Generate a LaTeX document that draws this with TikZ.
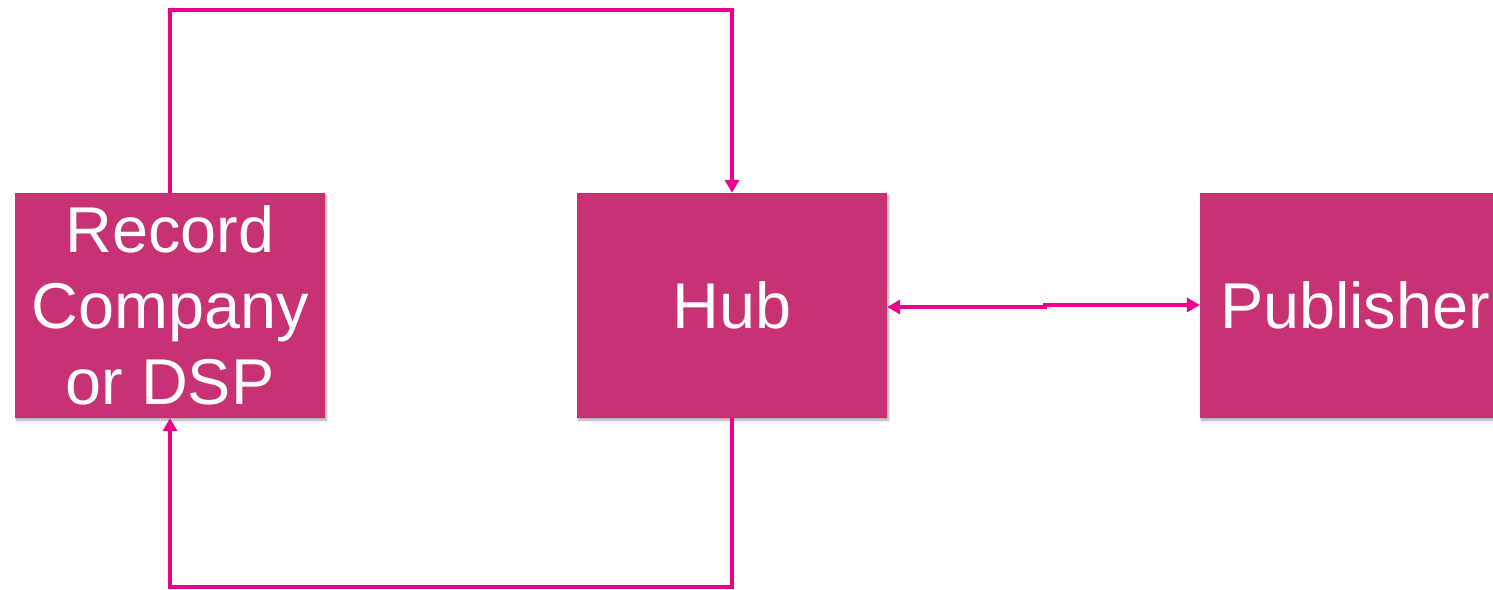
\documentclass[tikz,border=0pt]{standalone}
\usepackage{fontspec}
\setmainfont{Liberation Sans}
\usetikzlibrary{arrows.meta,shadows.blur}
\definecolor{boxfill}{HTML}{C73274}
\definecolor{linkcol}{HTML}{EC008C}
\tikzset{
  entity/.style={rectangle, fill=boxfill, minimum width=310bp, minimum height=225bp,
    inner sep=0pt, text=white, align=center,
    font=\fontsize{65}{76}\selectfont,
    blur shadow={shadow xshift=1.5bp, shadow yshift=-2bp, shadow blur steps=6, shadow opacity=35}},
  link/.style={draw=linkcol, line width=3.6bp,
    arrows={-Triangle[length=13bp,width=14bp]}},
  dlink/.style={draw=linkcol, line width=3.6bp,
    arrows={Triangle[length=13bp,width=14bp]-Triangle[length=13bp,width=14bp]}}
}
\begin{document}
\begin{tikzpicture}[x=1bp,y=-1bp]
\useasboundingbox (0,0) rectangle (1493,590);
\node[entity] (rec) at (170,305.5) {Record\\Company\\or DSP};
\node[entity] (hub) at (732,305.5) {Hub};
\node[entity] (pub) at (1355,305.5) {Publisher};
\coordinate (t1) at (170,10);
\coordinate (t2) at (732,10);
\coordinate (b1) at (732,587);
\coordinate (b2) at (170,587);
\coordinate (m1) at (1045,307);
\coordinate (m2) at (1045,305);
\draw[link] (rec.north) -- (t1) -- (t2) -- (hub.north);
\draw[link] (hub.south) -- (b1) -- (b2) -- (rec.south);
\draw[dlink] (hub.east |- m1) -- (m1) -- (m2) -- (pub.west |- m2);
\end{tikzpicture}
\end{document}
